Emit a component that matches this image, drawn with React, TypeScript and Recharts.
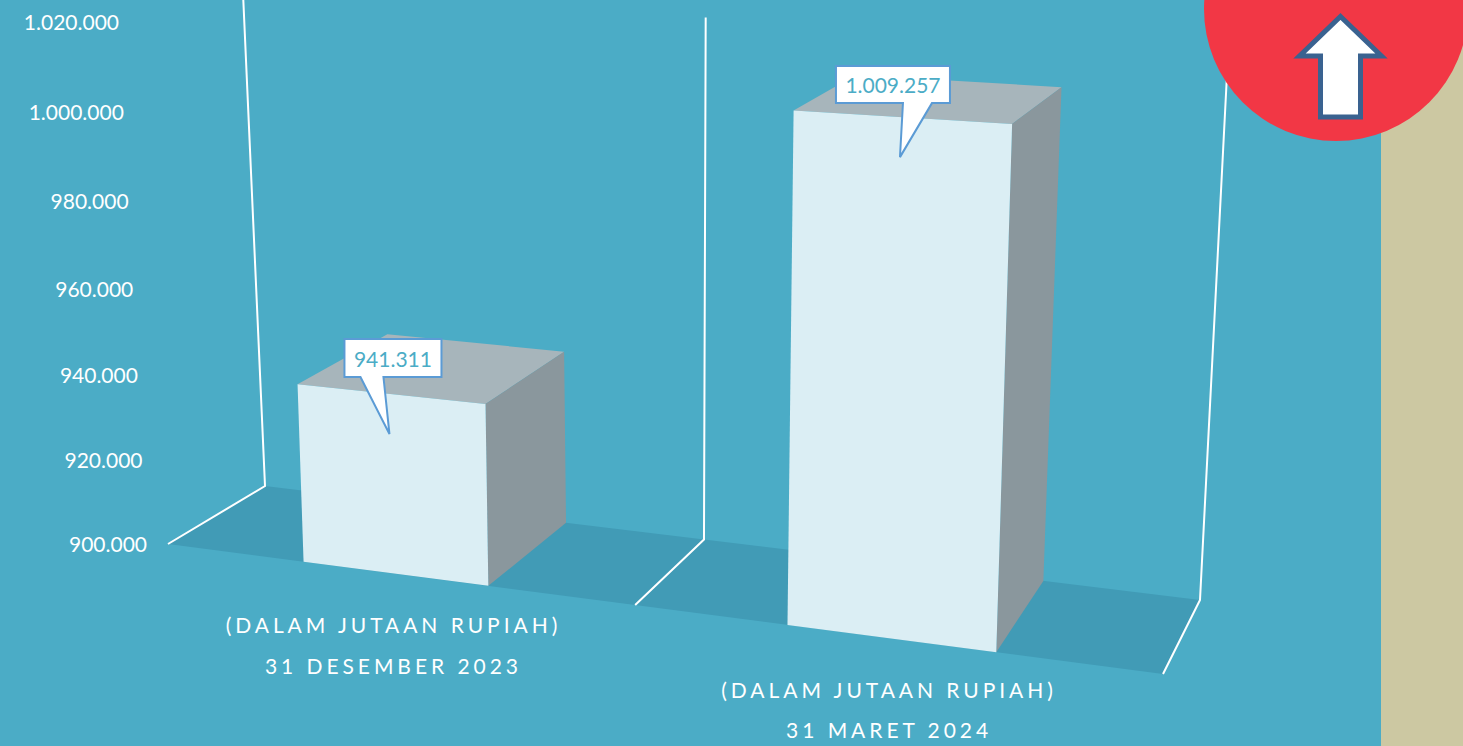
import React from "react";
import { BarChart, Bar, XAxis, YAxis, LabelList } from "recharts";

const categories = ["31 DESEMBER 2023", "31 MARET 2024"];
const values = [941311, 1009257];
const yTicks = [900000, 920000, 940000, 960000, 980000, 1000000, 1020000];
const unitLabel = "(DALAM JUTAAN RUPIAH)";

const chartData = categories.map((name, i) => ({ name, value: values[i] }));

const FONT = "Lato, sans-serif";
const BG = "#4bacc6";
const PLOT = { left: 168, top: 23, width: 995, height: 521 };
const PLOT_BOTTOM = PLOT.top + PLOT.height;

// screen corners of the tilted 3d box the flat plot gets projected into
const floorFront = [[168, 544], [1163, 674]];
const floorBack = [[265, 486], [1200, 600]];
const topFront = [[143, 22], [1189, 79]];
const topBack = [[243, -7], [1228.5, 45]];

const mix = (a: number, b: number, k: number) => a + (b - a) * k;

// u: across categories, v: up the value axis, d: 0 front to 1 back (all 0..1)
const project = (u: number, v: number, d: number) => {
  const uu = u - 0.122 * u * (1 - u) + 0.01 * u * (1 - u) * (1 - 2 * u);
  const vv = v - 0.048 * v * (1 - v);
  const at = (front: number[][], back: number[][], i: number) =>
    mix(mix(front[0][i], front[1][i], uu), mix(back[0][i], back[1][i], uu), d);
  return {
    x: mix(at(floorFront, floorBack, 0), at(topFront, topBack, 0), vv),
    y: mix(at(floorFront, floorBack, 1), at(topFront, topBack, 1), vv),
  };
};

const toU = (x: number) => (x - PLOT.left) / PLOT.width;
const toV = (y: number) => (PLOT_BOTTOM - y) / PLOT.height;
const pts = (list: { x: number; y: number }[]) => list.map((p) => `${p.x},${p.y}`).join(" ");

const Bar3D = (props: any) => {
  const { x, y, width } = props;
  const u0 = toU(x);
  const u1 = toU(x + width);
  const v = toV(y);
  const front = [project(u0, v, 0), project(u1, v, 0), project(u1, 0, 0), project(u0, 0, 0)];
  const top = [project(u0, v, 1), project(u1, v, 1), project(u1, v, 0), project(u0, v, 0)];
  const side = [project(u1, v, 0), project(u1, v, 1), project(u1, 0, 1), project(u1, 0, 0)];
  return (
    <g>
      <polygon points={pts(top)} fill="#a7b5bb" />
      <polygon points={pts(side)} fill="#8a979d" />
      <polygon points={pts(front)} fill="#dbeef4" />
    </g>
  );
};

// box offsets from the pointer tip, one per bar
const calloutShapes = [
  { tipX: -1, left: -45, right: 52, top: -95, bottom: -57, base0: -29, base1: -6 },
  { tipX: -1.5, left: -64, right: 50, top: -91, bottom: -54, base0: 3, base1: 32 },
];

const formatNumber = (n: number) => String(n).replace(/\B(?=(\d{3})+$)/g, ".");

const Callout = (props: any) => {
  const { x, y, width, value, index } = props;
  const c = project(toU(x + width / 2), toV(y), 0);
  const s = calloutShapes[index];
  const tx = c.x + s.tipX;
  const ty = c.y + 40;
  const d = [
    `M${tx + s.left},${ty + s.top}`,
    `L${tx + s.right},${ty + s.top}`,
    `L${tx + s.right},${ty + s.bottom}`,
    `L${tx + s.base1},${ty + s.bottom}`,
    `L${tx},${ty}`,
    `L${tx + s.base0},${ty + s.bottom}`,
    `L${tx + s.left},${ty + s.bottom}`,
    "Z",
  ].join(" ");
  return (
    <g>
      <path d={d} fill="#fff" stroke="#5b9bd5" strokeWidth={2} />
      <text
        x={tx + (s.left + s.right) / 2}
        y={ty + (s.top + s.bottom) / 2}
        textAnchor="middle"
        dominantBaseline="central"
        fill={BG}
        fontFamily={FONT}
        fontSize={21}
      >
        {formatNumber(value)}
      </text>
    </g>
  );
};

const ValueTick = (props: any) => {
  const { y, payload } = props;
  const v = toV(y);
  const p = project(0, v, 0);
  return (
    <text
      x={p.x - 21 - 3 * v}
      y={p.y - 1}
      textAnchor="end"
      dominantBaseline="central"
      fill="#fff"
      fontFamily={FONT}
      fontSize={21}
    >
      {formatNumber(payload.value)}
    </text>
  );
};

const CategoryTick = (props: any) => {
  const { x, payload } = props;
  const p = project(toU(x), 0, 0);
  const common = {
    x: p.x - 1.5,
    textAnchor: "middle" as const,
    dominantBaseline: "central" as const,
    fill: "#fff",
    fontFamily: FONT,
    fontSize: 21,
    letterSpacing: 3.95,
  };
  return (
    <g>
      <text {...common} y={p.y + 51}>
        {unitLabel}
      </text>
      <text {...common} y={p.y + 91.5}>
        {payload.value}
      </text>
    </g>
  );
};

// floor plate plus the white wall lines at the category boundaries
const Backdrop = () => {
  const floor = [project(0, 0, 0), project(0, 0, 1), project(1, 0, 1), project(1, 0, 0)];
  return (
    <g>
      <polygon points={pts(floor)} fill="#419bb6" />
      {[0, 0.5, 1].map((u) => (
        <polyline
          key={u}
          points={pts([project(u, 0, 0), project(u, 0, 1), project(u, 1, 1)])}
          fill="none"
          stroke="#fff"
          strokeWidth={2}
        />
      ))}
    </g>
  );
};

const Decoration = () => (
  <g>
    <rect x={1381} y={0} width={82} height={746} fill="#ccc8a2" />
    <circle cx={1336} cy={9} r={132} fill="#f23745" />
    <polygon
      points="1340.5,16.5 1381.5,56 1360.5,56 1360.5,117 1320.5,117 1320.5,56 1299.5,56"
      fill="#fff"
      stroke="#3a6290"
      strokeWidth={5}
    />
  </g>
);

export default function App() {
  return (
    <div style={{ position: "absolute", left: 0, top: 0, width: 1463, height: 746, background: BG, overflow: "hidden" }}>
      <BarChart
        width={1463}
        height={746}
        data={chartData}
        margin={{ left: PLOT.left - 1, top: PLOT.top, right: 1463 - PLOT.left - PLOT.width, bottom: 746 - PLOT_BOTTOM - 1 }}
        barCategoryGap="30.2%"
      >
        <Backdrop />
        <XAxis dataKey="name" height={1} axisLine={false} tickLine={false} tick={<CategoryTick />} interval={0} />
        <YAxis
          width={1}
          domain={[900000, 1020000]}
          ticks={yTicks}
          axisLine={false}
          tickLine={false}
          tick={<ValueTick />}
          interval={0}
        />
        <Bar dataKey="value" isAnimationActive={false} shape={<Bar3D />}>
          <LabelList dataKey="value" content={<Callout />} />
        </Bar>
        <Decoration />
      </BarChart>
    </div>
  );
}
